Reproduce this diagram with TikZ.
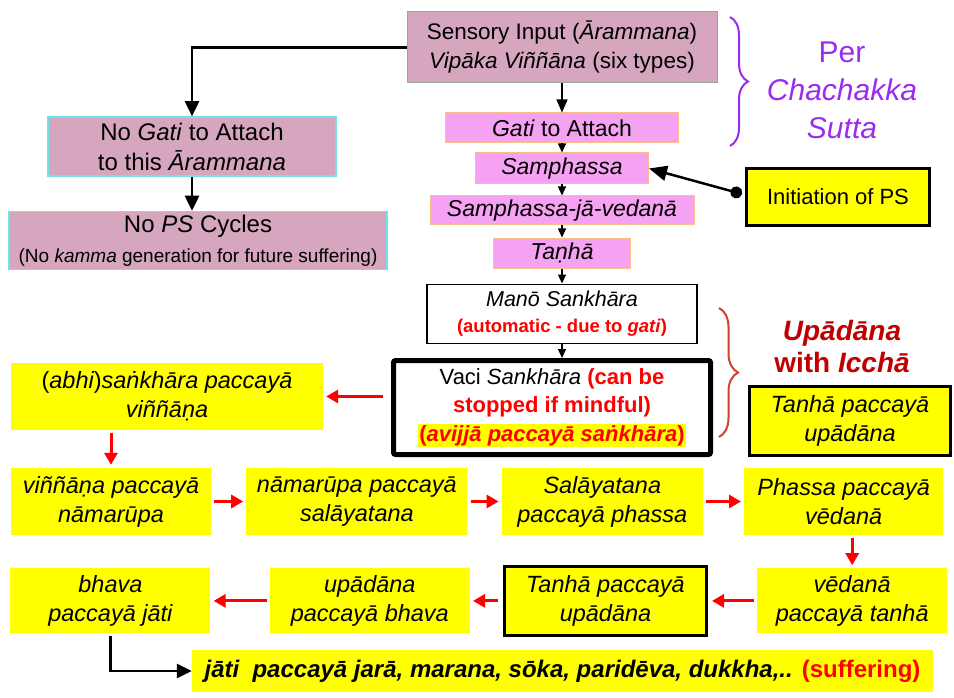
\documentclass[tikz,border=0pt]{standalone}
\usepackage{fontspec}
\setmainfont{Liberation Sans}
\usetikzlibrary{arrows.meta, positioning, decorations.pathreplacing}
\definecolor{mymauve}{HTML}{D5A6BD}
\definecolor{mypink}{HTML}{F6A2F2}
\definecolor{mypinkline}{HTML}{F7C08A}
\definecolor{mycyan}{HTML}{6FE3EA}
\definecolor{mygrayline}{HTML}{9AA59A}
\definecolor{mypurple}{HTML}{9A2BF0}
\definecolor{mydarkred}{HTML}{C00000}
\definecolor{mybrace}{HTML}{CC4433}
\definecolor{myred}{HTML}{FF0000}
\definecolor{myyellow}{HTML}{FFFF00}

\begin{document}
\begin{tikzpicture}[x=1pt, y=-1pt,
  inbox/.style={rectangle, draw=mygrayline, line width=1pt, fill=mymauve, align=center, inner sep=2pt, font=\fontsize{22.5}{29}\selectfont},
  nobox/.style={inbox, draw=mycyan, line width=1.5pt, font=\fontsize{24}{30}\selectfont},
  pbox/.style={rectangle, draw=mypinkline, line width=1pt, fill=mypink, inner sep=1pt, font=\fontsize{23}{28}\selectfont},
  ybox/.style={rectangle, fill=myyellow, align=center, inner sep=2pt, minimum height=67pt, font=\fontsize{23.5}{29}\selectfont\itshape},
  kbox/.style={ybox, draw=black, line width=3pt},
  wbox/.style={rectangle, draw=black, fill=white, align=center, inner sep=2pt},
  arr/.style={-{Triangle[length=9pt, width=8pt]}, line width=1.3pt},
  barr/.style={-{Triangle[length=15pt, width=14pt]}, line width=2.5pt},
  rarr/.style={-{Triangle[length=12pt, width=13pt]}, line width=3pt, color=myred, shorten <=3pt, shorten >=3pt},
  sbrace/.style={line width=2pt, decorate, decoration={brace, amplitude=#1}},
]
\useasboundingbox (0,0) rectangle (954,698);

\node[inbox, minimum width=310pt, minimum height=71pt] (sens) at (562,47.5) {Sensory Input (\textit{Ārammana})\\\textit{Vipāka Viññāna} (six types)};
\node[pbox, minimum width=233pt, minimum height=30pt, below=29pt of sens] (gati) {\textit{Gati} to Attach};
\node[pbox, minimum width=173pt, minimum height=31pt, below=9pt of gati] (samph) {\textit{Samphassa}};
\node[pbox, minimum width=264pt, minimum height=29pt, below=11pt of samph] (sjv) {\textit{Samphassa-jā-vedanā}};
\node[pbox, minimum width=137pt, minimum height=30pt, below=12pt of sjv] (tanha) {\textit{Taṇhā}};
\node[wbox, line width=1.5pt, minimum width=270pt, minimum height=59pt, below=15pt of tanha, font=\fontsize{21.5}{26}\selectfont] (mano) {\textit{Manō Sankhāra}\\{\fontsize{18.5}{24}\selectfont\bfseries\color{myred}(automatic - due to \textit{gati})}};
\node[wbox, line width=5pt, rounded corners=2pt, minimum width=317pt, minimum height=94pt, below=14pt of mano, xshift=-10pt, font=\fontsize{22}{28.5}\selectfont] (vaci) {Vaci \textit{Sankhāra} {\bfseries\color{myred}(can be}\\{\bfseries\color{myred}stopped if mindful)}\\\setlength{\fboxsep}{1pt}\colorbox{myyellow}{\bfseries\color{myred}(\textit{avijjā paccayā saṅkhāra})}};

\node[nobox, minimum width=288pt, minimum height=59pt] (nogati) at (192,146.5) {No \textit{Gati} to Attach\\to this \textit{Ārammana}};
\node[nobox, minimum width=378pt, minimum height=58pt, below=34pt of nogati, xshift=6pt] (nops) {No \textit{PS} Cycles\\{\fontsize{19}{21}\selectfont(No \textit{kamma} generation for future suffering)}};

\node[kbox, minimum width=183pt, minimum height=57pt, font=\fontsize{22}{26}\selectfont] (init) at (838,197) {Initiation of PS};
\node[text=mypurple, align=center, font=\fontsize{30}{38}\selectfont] (per) at (842,90) {Per\\\textit{Chachakka}\\\textit{Sutta}};
\node[text=mydarkred, align=center, font=\fontsize{28}{32}\selectfont\bfseries] (upad) at (842,346) {\textit{Upādāna}\\with \textit{Icchā}};
\node[kbox, minimum width=201pt, minimum height=69pt] (tpuside) at (850,421) {Tanhā paccayā\\upādāna};

\node[ybox, minimum width=312pt] (abhi) at (167,396.5) {{\upshape(}abhi{\upshape)}saṅkhāra paccayā\\viññāṇa};
\node[ybox, minimum width=200pt] (vin) at (111,501.5) {viññāṇa paccayā\\nāmarūpa};
\node[ybox, minimum width=221pt, right=35pt of vin] (nama) {nāmarūpa paccayā\\salāyatana};
\node[ybox, minimum width=201pt, right=34pt of nama] (sala) {Salāyatana\\paccayā phassa};
\node[ybox, minimum width=199pt, right=41pt of sala] (phassa) {Phassa paccayā\\vēdanā};
\node[ybox, minimum width=190pt, minimum height=65pt, below=33pt of phassa, xshift=8.5pt] (vedana) {vēdanā\\paccayā tanhā};
\node[kbox, minimum width=202pt, minimum height=69pt, left=49pt of vedana] (tpu) {Tanhā paccayā\\upādāna};
\node[ybox, minimum width=200pt, minimum height=65pt, left=33pt of tpu] (upa) {upādāna\\paccayā bhava};
\node[ybox, minimum width=200pt, minimum height=65pt, left=59pt of upa] (bhava) {bhava\\paccayā jāti};
\node[ybox, minimum width=741pt, minimum height=42pt, font=\fontsize{24}{28}\selectfont\bfseries\itshape] (jati) at (562.5,671) {jāti~ paccayā jarā, marana, sōka, paridēva, dukkha,.. {\upshape\color{myred}(suffering)}};

\draw[barr] (sens.west) -| (nogati.north);
\draw[barr] (nogati.south) -- (nogati.south |- nops.north);
\draw[arr, -{Triangle[length=13pt, width=11pt]}] (sens) -- (gati);
\draw[arr] (gati) -- (samph);
\draw[arr] (samph) -- (sjv);
\draw[arr] (sjv) -- (tanha);
\draw[arr] (tanha) -- (mano);
\draw[arr] (mano.south) -- (mano.south |- vaci.north);
\draw[line width=2.5pt, {Circle[length=12pt]}-{Triangle[length=18pt, width=15pt]}] ([xshift=-3pt, yshift=3pt]init.west) -- (samph.east);

\draw[sbrace=18pt, mypurple] (730,17) -- (730,146);
\draw[sbrace=19pt, mybrace] (719,308) -- (719,437);

\draw[rarr, shorten <=8pt] (vaci.west |- abhi.east) -- (abhi.east);
\draw[rarr] (abhi.south -| vin.north) -- (vin.north);
\draw[rarr] (vin) -- (nama);
\draw[rarr] (nama) -- (sala);
\draw[rarr] (sala) -- (phassa);
\draw[rarr] (phassa.south -| vedana.north) -- (vedana.north);
\draw[rarr, shorten >=4pt] (vedana) -- (tpu);
\draw[rarr, shorten <=5pt] (tpu) -- (upa);
\draw[rarr] (upa) -- (bhava);
\draw[barr, shorten <=2pt] (bhava.south) |- (jati.west);
\end{tikzpicture}
\end{document}
